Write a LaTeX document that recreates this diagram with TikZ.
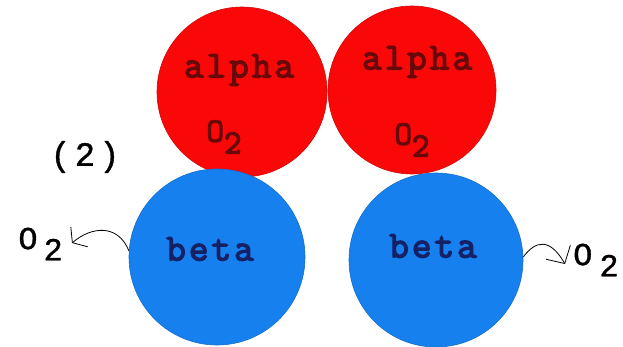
\documentclass[tikz,border=0pt]{standalone}
\usepackage{fontspec}
\usetikzlibrary{arrows.meta}
\newfontfamily\monob[LetterSpace=8,FakeBold=3.5]{Latin Modern Mono}
\newfontfamily\monor[LetterSpace=10,FakeBold=1]{Liberation Mono}
\definecolor{cred}{RGB}{250,8,8}
\definecolor{cblue}{RGB}{22,128,238}
\definecolor{tred}{RGB}{105,8,10}
\definecolor{tblue}{RGB}{22,32,100}
\tikzset{
  redball/.style={circle, fill=cred, draw=cred!85!black, line width=0.6pt, inner sep=0pt},
  blueball/.style={circle, fill=cblue, draw=cblue!85!black, line width=0.6pt, inner sep=0pt},
  intext/.style={inner sep=0pt, font=\monob\fontsize{38}{40}\selectfont},
  outtext/.style={inner sep=0pt, font=\monor\fontsize{32}{34}\selectfont, text=black},
  conn/.style={line width=0.8pt, black}
}
\begin{document}
\begin{tikzpicture}[x=1pt,y=-1pt]
\useasboundingbox (0,0) rectangle (623,347);
\fill[white] (0,0) rectangle (623,347);
% balls
\node[redball, minimum size=170pt] (r1) at (242,92) {};
\node[redball, minimum size=168pt] (r2) at (412,90) {};
\node[blueball, minimum size=176pt] (b1) at (217,257) {};
\node[blueball, minimum size=174pt] (b2) at (436,260) {};
% inner texts
\node[intext, text=tred] (a1) at (239,70) {alpha};
\node[intext, text=tred] (a2) at (417,62) {alpha};
\node[intext, text=tred, font=\monob\fontsize{34}{36}\selectfont] (o1) at (224,137) {O\raisebox{-0.35em}{2}};
\node[intext, text=tred, font=\monob\fontsize{34}{36}\selectfont] (o2) at (412,140) {O\raisebox{-0.35em}{2}};
\node[intext, text=tblue] (be1) at (210,249) {beta};
\node[intext, text=tblue] (be2) at (433,246) {beta};
% outer texts
\node[outtext, font=\monor\fontsize{34}{36}\selectfont] (lab) at (85,157) {(\hspace{4pt}2\hspace{4pt})};
\node[outtext, anchor=east] (ol) at (63,244) {O\hspace{6pt}\raisebox{-0.35em}{2}};
\node[outtext, anchor=west] (or) at (573,260) {O\hspace{7pt}\raisebox{-0.35em}{2}};
% connectors
\draw[conn, -{Straight Barb[length=9pt,width=26pt]}] (b1.176) .. controls (118,224) and (92,226) .. ([xshift=9pt,yshift=1pt]ol.east);
\draw[conn, -{Straight Barb[length=13pt,width=28pt]}] (b2.2) .. controls (536,240) and (550,238) .. ([xshift=-8pt,yshift=-4pt]or.west);
\end{tikzpicture}
\end{document}
